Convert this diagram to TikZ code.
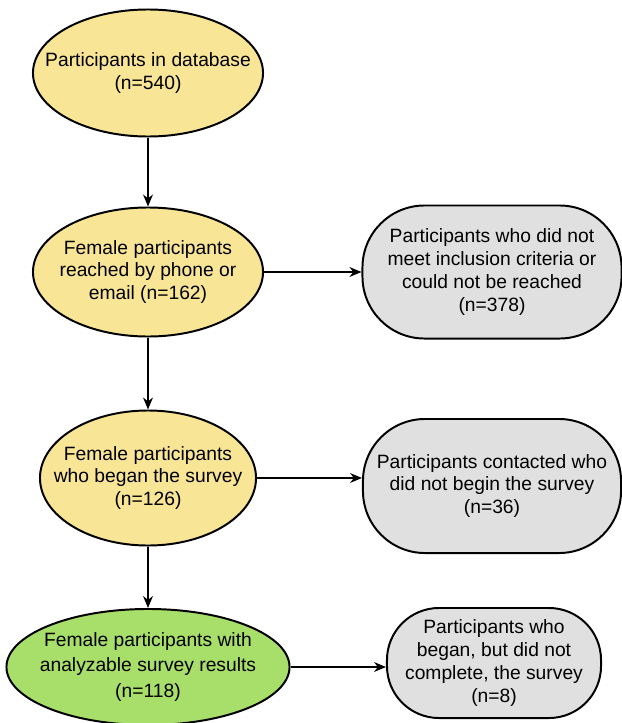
\documentclass[tikz,border=0pt]{standalone}
\usepackage{fontspec}
\setmainfont{Liberation Sans}
\usetikzlibrary{shapes.geometric,arrows.meta}
\definecolor{partyellow}{RGB}{249,229,150}
\definecolor{partgreen}{RGB}{168,222,106}
\definecolor{partgrey}{RGB}{224,224,224}
\begin{document}
\begin{tikzpicture}[x=0.025cm,y=-0.025cm,
   every node/.style={font=\fontsize{13.7}{16.3}\selectfont,align=center},
   kept/.style={ellipse,draw,line width=1.4pt,fill=partyellow,inner xsep=-0.6cm,inner ysep=0pt},
   dropped/.style={rectangle,draw,line width=1.4pt,fill=partgrey,rounded corners=1.55cm},
   flow/.style={-{Stealth[length=8.5pt,width=7pt]},line width=0.9pt}]
   \useasboundingbox (0,0) rectangle (622,723);

   % main line
   \node[kept,minimum width=5.75cm,minimum height=3.175cm] (database) at (148,73)
      {Participants in database\\(n=540)};
   \node[kept,minimum width=5.75cm,minimum height=3.225cm] (reached) at (148,272)
      {Female participants\\reached by phone or\\email (n=162)};
   \node[kept,minimum width=5.4cm,minimum height=3.375cm] (began) at (148,478)
      {Female participants\\who began the survey\\(n=126)};
   \node[kept,fill=partgreen,font=\fontsize{13.7}{18.2}\selectfont,
      minimum width=7.075cm,minimum height=2.9cm] (analyzable) at (148,667)
      {Female participants with\\analyzable survey results\\(n=118)};

   % excluded
   \node[dropped,minimum width=6.475cm,minimum height=3.325cm] (unreached) at (492,272)
      {Participants who did not\\meet inclusion criteria or\\could not be reached\\(n=378)};
   \node[dropped,minimum width=6.45cm,minimum height=3.35cm] (notbegun) at (492,486)
      {Participants contacted who\\did not begin the survey\\(n=36)};
   \node[dropped,rounded corners=1.3cm,minimum width=5.35cm,minimum height=2.75cm] (incomplete) at (494,663)
      {Participants who\\began, but did not\\complete, the survey\\(n=8)};

   \draw[flow] (database) -- (reached);
   \draw[flow] (reached) -- (began);
   \draw[flow] (began) -- (analyzable);
   \draw[flow] (reached) -- (unreached);
   \draw[flow] (began.east) -- (began.east -| notbegun.west);
   \draw[flow] (analyzable.east) -- (analyzable.east -| incomplete.west);
\end{tikzpicture}
\end{document}
